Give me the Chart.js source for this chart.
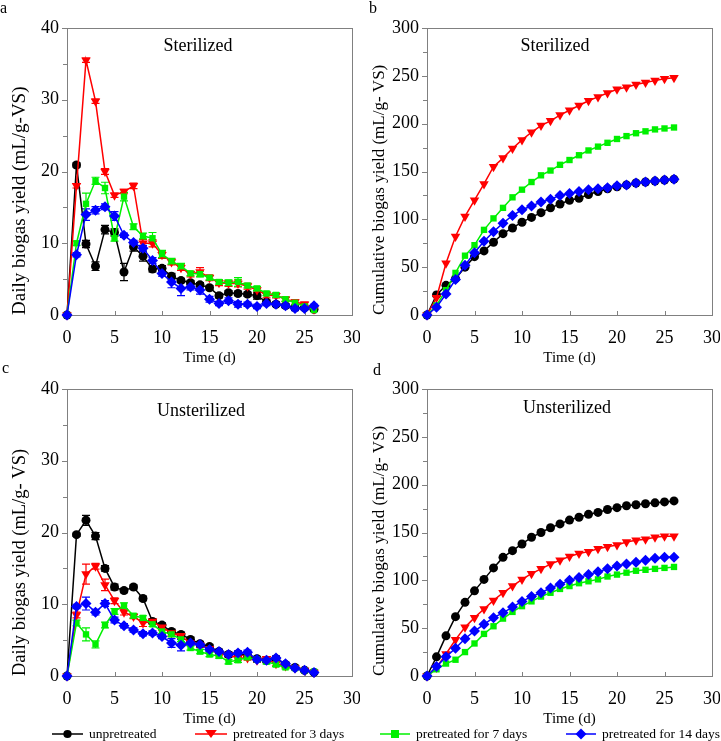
<!DOCTYPE html>
<html>
<head>
<meta charset="utf-8">
<script src="https://cdn.jsdelivr.net/npm/chart.js@4.4.1/dist/chart.umd.min.js"></script>
<style>
  body { margin: 0; background: #fff; font-family: "Liberation Serif", "Times New Roman", serif; }
  #wrap { position: relative; width: 721px; height: 741px; overflow: hidden; }
  canvas { position: absolute; }
  .lbl { position: absolute; font-size: 16px; color: #000; line-height: 1; }
  .ttl { position: absolute; font-size: 18px; color: #000; line-height: 1; transform: translateX(-50%); white-space: nowrap; }
  .leg { position: absolute; top: 726px; font-size: 13.5px; line-height: 16px; white-space: nowrap; }
  .leg svg { position: absolute; top: 2px; }
</style>
</head>
<body>
<div id="wrap">
  <canvas id="chartA" width="360" height="370" style="left:0;top:0"></canvas>
  <canvas id="chartB" width="360" height="370" style="left:360px;top:0"></canvas>
  <canvas id="chartC" width="360" height="370" style="left:0;top:361px"></canvas>
  <canvas id="chartD" width="360" height="370" style="left:360px;top:361px"></canvas>

  <div class="lbl" style="left:0px;top:0px">a</div>
  <div class="lbl" style="left:369px;top:0px">b</div>
  <div class="lbl" style="left:2px;top:360px">c</div>
  <div class="lbl" style="left:373px;top:362px">d</div>

  <div class="ttl" style="left:198px;top:36px">Sterilized</div>
  <div class="ttl" style="left:555px;top:36px">Sterilized</div>
  <div class="ttl" style="left:201px;top:401px">Unsterilized</div>
  <div class="ttl" style="left:567px;top:398px">Unsterilized</div>

  <div id="legend"></div>
</div>

<script>
// Time axis (days)
const days = [0, 1, 2, 3, 4, 5, 6, 7, 8, 9, 10, 11, 12, 13, 14, 15, 16, 17, 18, 19, 20, 21, 22, 23, 24, 25, 26];

const seriesNames = ['unpretreated', 'pretreated for 3 days', 'pretreated for 7 days', 'pretreated for 14 days'];

// (a) Sterilized, daily yield
const sterDailyUnpre = [0, 20.9, 9.9, 6.8, 11.9, 11.5, 6.0, 9.5, 8.2, 6.4, 6.5, 5.4, 4.8, 4.5, 4.2, 3.8, 2.7, 3.1, 3.0, 2.9, 2.7, 1.8, 1.5, 1.3, 1.0, 1.0, 0.8];
const sterDaily3d = [0, 18.0, 35.5, 29.8, 20.0, 16.7, 17.2, 18.0, 10.0, 10.0, 8.4, 7.4, 6.6, 5.7, 6.0, 5.2, 4.5, 4.4, 4.4, 4.0, 3.5, 2.8, 2.7, 2.2, 1.8, 1.5, 0.8];
const sterDaily7d = [0, 10.0, 15.5, 18.7, 17.7, 10.7, 16.5, 12.3, 11.0, 10.7, 8.5, 7.5, 6.8, 5.8, 5.7, 5.2, 4.6, 4.5, 4.6, 4.1, 3.7, 3.0, 2.8, 2.2, 1.7, 1.2, 0.7];
const sterDaily14d = [0, 8.4, 14.0, 14.6, 15.1, 13.8, 11.1, 10.1, 9.3, 7.6, 5.8, 4.6, 3.7, 3.9, 3.5, 2.2, 1.6, 2.0, 1.5, 1.5, 1.2, 1.6, 1.5, 1.3, 0.9, 0.9, 1.3];

const sterErrUnpre = [0, 0.3, 0.5, 0.6, 0.6, 0.5, 1.2, 0.6, 0.7, 0.4, 0.4, 0.4, 0.3, 0.3, 0.3, 0.3, 0.3, 0.3, 0.3, 0.3, 0.5, 0.3, 0.3, 0.2, 0.2, 0.2, 0.2];
const sterErr3d = [0, 0.3, 0.3, 0.3, 0.4, 0.3, 0.3, 0.4, 0.5, 0.5, 0.5, 0.4, 0.4, 0.4, 0.6, 0.4, 0.4, 0.4, 0.5, 0.4, 0.4, 0.4, 0.3, 0.3, 0.3, 0.3, 0.2];
const sterErr7d = [0, 0.3, 1.5, 0.5, 0.8, 0.4, 0.6, 0.4, 0.4, 0.8, 0.5, 0.4, 0.4, 0.3, 0.4, 0.3, 0.3, 0.4, 0.6, 0.3, 0.3, 0.3, 0.3, 0.3, 0.3, 0.3, 0.2];
const sterErr14d = [0, 0.3, 0.8, 0.5, 0.4, 0.6, 0.3, 0.3, 0.4, 0.4, 0.4, 0.8, 1.0, 0.4, 0.6, 0.4, 0.3, 0.4, 0.4, 0.3, 0.3, 0.3, 0.3, 0.3, 0.3, 0.2, 0.2];

// (b) Sterilized, cumulative yield
const sterCumUnpre = [0, 21, 31, 38, 50, 61, 67, 76, 85, 91, 97, 102, 107, 112, 116, 120, 122, 126, 129, 132, 134, 136, 138, 139, 140, 141, 142];
const sterCum3d = [0, 18, 54, 82, 103, 120, 137, 155, 164, 174, 183, 191, 198, 203, 209, 214, 219, 224, 228, 232, 236, 238, 241, 243, 245, 247, 248];
const sterCum7d = [0, 10, 26, 44, 62, 73, 89, 101, 112, 123, 131, 139, 146, 151, 157, 162, 167, 172, 176, 180, 184, 187, 190, 192, 194, 195, 196];
const sterCum14d = [0, 8, 22, 37, 52, 65, 77, 87, 96, 104, 110, 114, 118, 121, 125, 127, 129, 131, 132, 133, 135, 136, 138, 139, 140, 141, 142];

// (c) Unsterilized, daily yield
const unsDailyUnpre = [0, 19.7, 21.7, 19.5, 15.0, 12.4, 11.9, 12.4, 10.8, 7.6, 7.1, 6.2, 5.8, 5.1, 4.5, 4.1, 3.4, 3.0, 3.1, 2.8, 2.4, 2.2, 2.4, 1.6, 1.2, 0.8, 0.5];
const unsDaily3d = [0, 8.5, 14.2, 15.3, 12.7, 10.5, 8.9, 8.3, 7.4, 7.6, 6.8, 6.0, 5.6, 4.6, 4.3, 3.8, 3.1, 2.9, 2.5, 2.5, 2.2, 2.4, 1.7, 1.4, 1.1, 0.8, 0.5];
const unsDaily7d = [0, 7.4, 5.8, 4.4, 7.1, 9.0, 9.8, 8.4, 8.1, 7.2, 6.2, 5.8, 5.1, 3.9, 3.4, 3.0, 2.8, 2.0, 2.2, 2.6, 2.3, 2.0, 1.6, 1.2, 1.1, 0.8, 0.6];
const unsDaily14d = [0, 9.7, 10.1, 8.9, 10.1, 7.8, 7.0, 6.4, 5.9, 6.0, 5.5, 4.6, 4.3, 4.6, 4.4, 3.7, 3.4, 3.0, 3.2, 3.3, 2.3, 2.2, 2.5, 1.7, 1.1, 0.8, 0.5];

const unsErrUnpre = [0, 0.2, 0.7, 0.5, 0.4, 0.4, 0.3, 0.3, 0.3, 0.3, 0.3, 0.3, 0.3, 0.3, 0.3, 0.3, 0.3, 0.3, 0.3, 0.3, 0.3, 0.3, 0.3, 0.2, 0.2, 0.2, 0.2];
const unsErr3d = [0, 0.4, 1.4, 0.4, 0.8, 0.4, 0.4, 0.3, 0.5, 0.4, 0.4, 0.4, 0.4, 0.3, 0.3, 0.3, 0.3, 0.3, 0.3, 0.3, 0.3, 0.3, 0.3, 0.2, 0.2, 0.2, 0.2];
const unsErr7d = [0, 0.4, 0.9, 0.5, 0.4, 0.4, 0.4, 0.3, 0.3, 0.3, 0.3, 0.3, 0.3, 0.3, 0.3, 0.3, 0.3, 0.3, 0.3, 0.3, 0.3, 0.3, 0.3, 0.2, 0.2, 0.2, 0.2];
const unsErr14d = [0, 0.3, 0.9, 0.4, 0.4, 0.4, 0.3, 0.3, 0.3, 0.3, 0.3, 0.6, 0.8, 0.3, 0.3, 0.3, 0.3, 0.3, 0.3, 0.3, 0.3, 0.3, 0.3, 0.2, 0.2, 0.2, 0.2];

// (d) Unsterilized, cumulative yield
const unsCumUnpre = [0, 20, 42, 62, 77, 89, 101, 113, 124, 131, 138, 145, 150, 155, 159, 163, 166, 169, 171, 174, 176, 178, 179, 180, 181, 182, 183];
const unsCum3d = [0, 9, 23, 38, 51, 61, 70, 79, 87, 94, 101, 107, 112, 117, 121, 125, 128, 130, 133, 135, 137, 140, 142, 143, 145, 146, 146];
const unsCum7d = [0, 7, 13, 17, 25, 34, 44, 52, 60, 67, 73, 78, 83, 87, 91, 94, 97, 99, 101, 104, 106, 108, 110, 111, 112, 113, 114];
const unsCum14d = [0, 10, 20, 29, 39, 47, 54, 61, 66, 72, 78, 83, 87, 92, 96, 100, 103, 106, 109, 112, 115, 117, 119, 121, 123, 124, 124];

// Marker / line styles per series
const styles = [
    { color: '#000000', pointStyle: 'circle', radius: 4.5, rotation: 0, order: 4 },
    { color: '#ff0000', pointStyle: 'triangle', radius: 5.5, rotation: 180, order: 3 },
    { color: '#00f000', pointStyle: 'rect', radius: 4.5, rotation: 0, order: 2 },
    { color: '#0000ff', pointStyle: 'rectRot', radius: 5.5, rotation: 0, order: 1 }
];

const serif = '"Liberation Serif", "Times New Roman", serif';
const axisGray = '#808080';

// Frame around plot area plus tick marks
const framePlugin = {
    id: 'frame',
    beforeDatasetsDraw(chart) {
        const ctx = chart.ctx;
        const a = chart.chartArea;
        const xs = chart.scales.x;
        const ys = chart.scales.y;
        ctx.save();
        ctx.strokeStyle = axisGray;
        ctx.lineWidth = 1;
        ctx.strokeRect(Math.round(a.left) + 0.5, Math.round(a.top) + 0.5, Math.round(a.right - a.left), Math.round(a.bottom - a.top));
        ctx.beginPath();
        // y ticks: outward, minor at half steps
        const step = chart.options.scales.y.ticks.stepSize;
        for (let v = 0; v <= ys.max + 1e-9; v += step / 2) {
            const py = Math.round(ys.getPixelForValue(v)) + 0.5;
            const major = Math.abs(v / step - Math.round(v / step)) < 1e-6;
            ctx.moveTo(a.left, py);
            ctx.lineTo(a.left - (major ? 5 : 4), py);
        }
        // x ticks: inward
        for (let v = 5; v < xs.max; v += 5) {
            const px = Math.round(xs.getPixelForValue(v)) + 0.5;
            ctx.moveTo(px, a.bottom);
            ctx.lineTo(px, a.bottom - 4);
        }
        ctx.stroke();
        ctx.restore();
    }
};

// Vertical error bars with caps
const errorBarPlugin = {
    id: 'errorBars',
    beforeDatasetsDraw(chart) {
        const ctx = chart.ctx;
        const xs = chart.scales.x;
        const ys = chart.scales.y;
        ctx.save();
        ctx.lineWidth = 1.2;
        chart.data.datasets.forEach(ds => {
            if (!ds.errors) return;
            ctx.strokeStyle = ds.borderColor;
            ctx.beginPath();
            ds.data.forEach((p, i) => {
                const e = ds.errors[i];
                if (!e) return;
                const px = xs.getPixelForValue(p.x);
                const top = ys.getPixelForValue(p.y + e);
                const bot = ys.getPixelForValue(p.y - e);
                ctx.moveTo(px, top); ctx.lineTo(px, bot);
                ctx.moveTo(px - 4, top); ctx.lineTo(px + 4, top);
                ctx.moveTo(px - 4, bot); ctx.lineTo(px + 4, bot);
            });
            ctx.stroke();
        });
        ctx.restore();
    }
};

function makeDataset(i, values, errors) {
    const s = styles[i];
    return {
        label: seriesNames[i],
        data: days.map((d, k) => ({ x: d, y: values[k] })),
        errors: errors || null,
        borderColor: s.color,
        backgroundColor: s.color,
        borderWidth: 1.5,
        pointStyle: s.pointStyle,
        pointRadius: s.radius,
        pointRotation: s.rotation,
        pointBorderWidth: 0,
        order: s.order,
        tension: 0
    };
}

function initPanel(id, series, errors, yMax, yStep, yTitle, yTitleSize) {
    const ctx = document.getElementById(id).getContext('2d');
    new Chart(ctx, {
        type: 'line',
        data: {
            datasets: series.map((vals, i) => makeDataset(i, vals, errors ? errors[i] : null))
        },
        options: {
            responsive: false,
            animation: false,
            clip: false,
            layout: { padding: { top: 28, right: 8, left: 0, bottom: 0 } },
            plugins: { legend: { display: false }, tooltip: { enabled: false } },
            scales: {
                x: {
                    type: 'linear',
                    min: 0,
                    max: 30,
                    grid: { display: false, drawTicks: false },
                    border: { display: false },
                    ticks: { stepSize: 5, color: '#000', padding: 12, maxRotation: 0, font: { family: serif, size: 18 } },
                    title: { display: true, text: 'Time (d)', color: '#000', padding: { top: 0, bottom: 3 }, font: { family: serif, size: 15 } },
                    afterFit(scale) {
                        scale.height = 55;
                        scale.paddingLeft = 0;
                        scale.paddingRight = 0;
                    }
                },
                y: {
                    min: 0,
                    max: yMax,
                    grid: { display: false, drawTicks: false },
                    border: { display: false },
                    ticks: { stepSize: yStep, color: '#000', padding: 8, font: { family: serif, size: 18 } },
                    title: {
                        display: true, text: yTitle, color: '#000', align: 'start',
                        padding: { top: 9, bottom: 0 }, font: { family: serif, size: yTitleSize }
                    },
                    afterFit(scale) {
                        scale.width = 67;
                        scale.paddingTop = 0;
                        scale.paddingBottom = 0;
                    }
                }
            }
        },
        plugins: [framePlugin, errorBarPlugin]
    });
}

// Shared legend
function buildLegend() {
    const pos = [[52, 89], [195, 233], [380, 416], [566, 602]];
    const icons = [
        '<circle cx="15" cy="6" r="4" fill="#000"/>',
        '<polygon points="9.5,2 20.5,2 15,10" fill="#ff0000"/>',
        '<rect x="11" y="2" width="8" height="8" fill="#00f000"/>',
        '<polygon points="15,0.5 20.5,6 15,11.5 9.5,6" fill="#0000ff"/>'
    ];
    const box = document.getElementById('legend');
    seriesNames.forEach((name, i) => {
        const el = document.createElement('div');
        el.className = 'leg';
        el.style.left = pos[i][0] + 'px';
        const w = pos[i][1] - pos[i][0] - 6;
        el.innerHTML = '<svg width="' + w + '" height="12" viewBox="0 0 30 12" preserveAspectRatio="none">' +
            '<line x1="0" y1="6" x2="30" y2="6" stroke="' + styles[i].color + '" stroke-width="1.5"/>' + icons[i] + '</svg>' +
            '<span style="position:absolute;left:' + (pos[i][1] - pos[i][0]) + 'px">' + name + '</span>';
        box.appendChild(el);
    });
}

// Initialize
initPanel('chartA', [sterDailyUnpre, sterDaily3d, sterDaily7d, sterDaily14d],
    [sterErrUnpre, sterErr3d, sterErr7d, sterErr14d], 40, 10, 'Daily biogas yield (mL/g-VS)', 19);
initPanel('chartB', [sterCumUnpre, sterCum3d, sterCum7d, sterCum14d], null, 300, 50, 'Cumulative biogas yield (mL/g- VS)', 17);
initPanel('chartC', [unsDailyUnpre, unsDaily3d, unsDaily7d, unsDaily14d],
    [unsErrUnpre, unsErr3d, unsErr7d, unsErr14d], 40, 10, 'Daily biogas yield (mL/g- VS)', 18.5);
initPanel('chartD', [unsCumUnpre, unsCum3d, unsCum7d, unsCum14d], null, 300, 50, 'Cumulative biogas yield (mL/g- VS)', 17);
buildLegend();
</script>
</body>
</html>
